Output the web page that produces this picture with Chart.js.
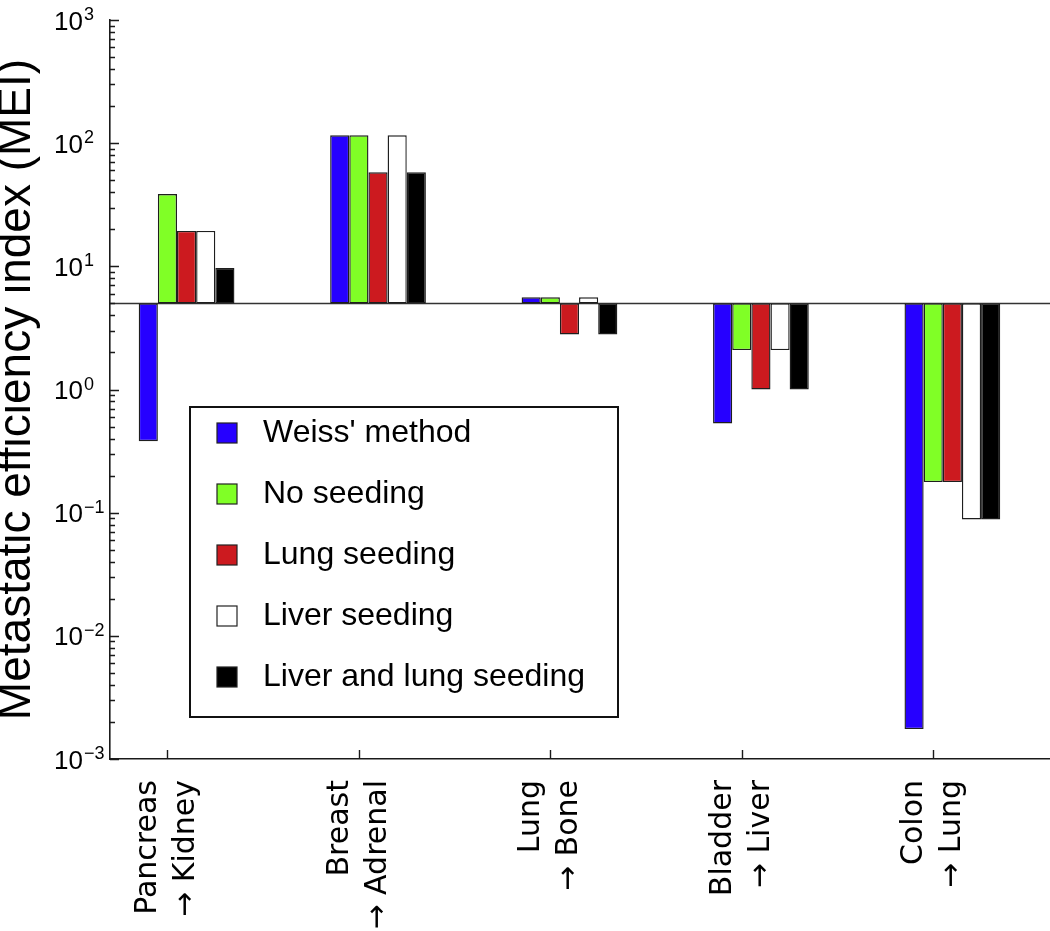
<!DOCTYPE html>
<html>
<head>
<meta charset="utf-8">
<script src="https://cdn.jsdelivr.net/npm/chart.js@4.4.1/dist/chart.umd.min.js"></script>
<style>
  html, body { margin: 0; padding: 0; background: #ffffff; }
  #wrap { width: 1050px; height: 931px; }
</style>
</head>
<body>
<div id="wrap"><canvas id="c" width="1050" height="931"></canvas></div>
<script>
// ---------------- data ----------------
const categories = [
  ['Pancreas', '→ Kidney'],
  ['Breast', '→ Adrenal'],
  ['Lung', '→ Bone'],
  ['Bladder', '→ Liver'],
  ['Colon', '→ Lung']
];
const seriesNames = ["Weiss' method", 'No seeding', 'Lung seeding', 'Liver seeding', 'Liver and lung seeding'];
const weissMethod      = [0.38, 116, 5.6, 0.53, 0.00175];
const noSeeding        = [38.6, 116, 5.6, 2.09, 0.177];
const lungSeeding      = [19.4, 58, 2.8, 1.0, 0.177];
const liverSeeding     = [19.4, 116, 5.6, 2.09, 0.088];
const liverLungSeeding = [9.7, 58, 2.8, 1.0, 0.088];
const baselineMEI = 5;
const yDecades = [-3, -2, -1, 0, 1, 2, 3];
const yTickBase = '10';
const yTickExponents = ['\u22123', '\u22122', '\u22121', '0', '1', '2', '3'];
const yTitle = 'Metastatic efficiency index (MEI)';

// ---------------- styles ----------------
const seriesColors = ['#2600ff', '#80ff26', '#cc1a1f', '#ffffff', '#000000'];
const FONT = '"Liberation Sans", Arial, Helvetica, sans-serif';
const XFONT = '"DejaVu Sans", "Liberation Sans", sans-serif';
const AXIS_COLOR = '#1a1a1a';

const allSeries = [weissMethod, noSeeding, lungSeeding, liverSeeding, liverLungSeeding];

// two empty spacer datasets so that, as in the original, the 2nd series sits on the tick
const spacer = () => ({ label: '', data: [], backgroundColor: 'rgba(0,0,0,0)', borderWidth: 0 });

const datasets = [spacer(), spacer()].concat(allSeries.map((vals, s) => ({
  label: seriesNames[s],
  data: vals.map((v, i) => ({ x: i + 1, y: [baselineMEI, v] })),
  backgroundColor: seriesColors[s],
  borderColor: '#1e1e1e',
  borderWidth: 1.4,
  borderSkipped: false,
  categoryPercentage: 0.7,
  barPercentage: 1.0
})));

// inward tick marks, baseline and power-of-ten tick labels
const axisDecor = {
  id: 'axisDecor',
  beforeDatasetsDraw(chart) {
    const { ctx, chartArea: a, scales: { y } } = chart;
    const yb = y.getPixelForValue(baselineMEI);
    ctx.save();
    ctx.strokeStyle = '#333333';
    ctx.lineWidth = 1.5;
    ctx.beginPath();
    ctx.moveTo(a.left, yb);
    ctx.lineTo(a.right, yb);
    ctx.stroke();
    ctx.restore();
  },
  afterDatasetsDraw(chart) {
    const { ctx, chartArea: a, scales: { x, y } } = chart;
    ctx.save();
    ctx.strokeStyle = AXIS_COLOR;
    ctx.lineWidth = 1.4;
    ctx.beginPath();
    y.ticks.forEach(t => {
      const py = Math.round(y.getPixelForValue(t.value)) + 0.5;
      const major = Math.abs(Math.log10(t.value) - Math.round(Math.log10(t.value))) < 1e-9;
      ctx.moveTo(a.left, py);
      ctx.lineTo(a.left + (major ? 9 : 5), py);
    });
    x.ticks.forEach(t => {
      const px = Math.round(x.getPixelForValue(t.value)) + 0.5;
      ctx.moveTo(px, a.bottom);
      ctx.lineTo(px, a.bottom - 9);
    });
    ctx.stroke();

    // y tick labels: 10 with a raised exponent
    ctx.fillStyle = '#000000';
    ctx.textAlign = 'left';
    ctx.textBaseline = 'alphabetic';
    yDecades.forEach((e, i) => {
      const py = y.getPixelForValue(Math.pow(10, e));
      const lx = a.left - 56;
      ctx.font = '26px ' + FONT;
      ctx.fillText(yTickBase, lx, py + 9.5);
      const w = ctx.measureText(yTickBase).width;
      ctx.font = '18px ' + FONT;
      ctx.fillText(yTickExponents[i], lx + w + 1, py);
    });
    ctx.restore();
  }
};

// boxed legend inside the plot area
const boxLegend = {
  id: 'boxLegend',
  afterDraw(chart) {
    const { ctx, chartArea: a } = chart;
    const left = a.left + 80, top = a.top + 387, w = 428, h = 310;
    ctx.save();
    ctx.fillStyle = '#ffffff';
    ctx.fillRect(left, top, w, h);
    ctx.strokeStyle = '#111111';
    ctx.lineWidth = 2;
    ctx.strokeRect(left, top, w, h);
    ctx.font = '32px ' + FONT;
    ctx.textBaseline = 'alphabetic';
    ctx.textAlign = 'left';
    seriesNames.forEach((name, i) => {
      const sy = top + 16 + i * 61;
      ctx.fillStyle = seriesColors[i];
      ctx.fillRect(left + 27, sy, 20, 20);
      ctx.strokeStyle = '#222222';
      ctx.lineWidth = 1.2;
      ctx.strokeRect(left + 27, sy, 20, 20);
      ctx.fillStyle = '#000000';
      ctx.fillText(name, left + 73, sy + 19);
    });
    ctx.restore();
  }
};

new Chart(document.getElementById('c'), {
  type: 'bar',
  data: { datasets },
  options: {
    responsive: false,
    devicePixelRatio: 1,
    animation: false,
    layout: { padding: { top: 20, right: 0, bottom: 0, left: 0 } },
    plugins: { legend: { display: false }, tooltip: { enabled: false } },
    scales: {
      x: {
        type: 'linear',
        min: 0.7,
        max: 5.61,
        offset: false,
        grid: { display: false, offset: false },
        border: { display: true, color: AXIS_COLOR, width: 1.6 },
        afterBuildTicks: (scale) => { scale.ticks = categories.map((c, i) => ({ value: i + 1 })); },
        afterFit: (scale) => { scale.height = 172; },
        ticks: {
          autoSkip: false,
          maxRotation: 90,
          minRotation: 90,
          padding: 13,
          labelOffset: -19,
          color: '#000000',
          font: { family: XFONT, size: 30, lineHeight: 1.27 },
          callback: (v) => categories[Math.round(v) - 1]
        }
      },
      y: {
        type: 'logarithmic',
        min: 1e-3,
        max: 1e3,
        grid: { display: false },
        border: { display: true, color: AXIS_COLOR, width: 1.6 },
        afterBuildTicks: (scale) => {
          const t = [];
          yDecades.forEach(e => {
            for (let m = 1; m <= 9; m++) {
              if (e === yDecades[yDecades.length - 1] && m > 1) break;
              t.push({ value: Number((m * Math.pow(10, e)).toPrecision(6)) });
            }
          });
          scale.ticks = t;
        },
        afterFit: (scale) => { scale.width = 110; },
        ticks: { display: false, autoSkip: false },
        title: {
          display: true,
          text: yTitle,
          color: '#000000',
          padding: 0,
          font: { family: FONT, size: 46, lineHeight: 0.76 }
        }
      }
    }
  },
  plugins: [axisDecor, boxLegend]
});
</script>
</body>
</html>
